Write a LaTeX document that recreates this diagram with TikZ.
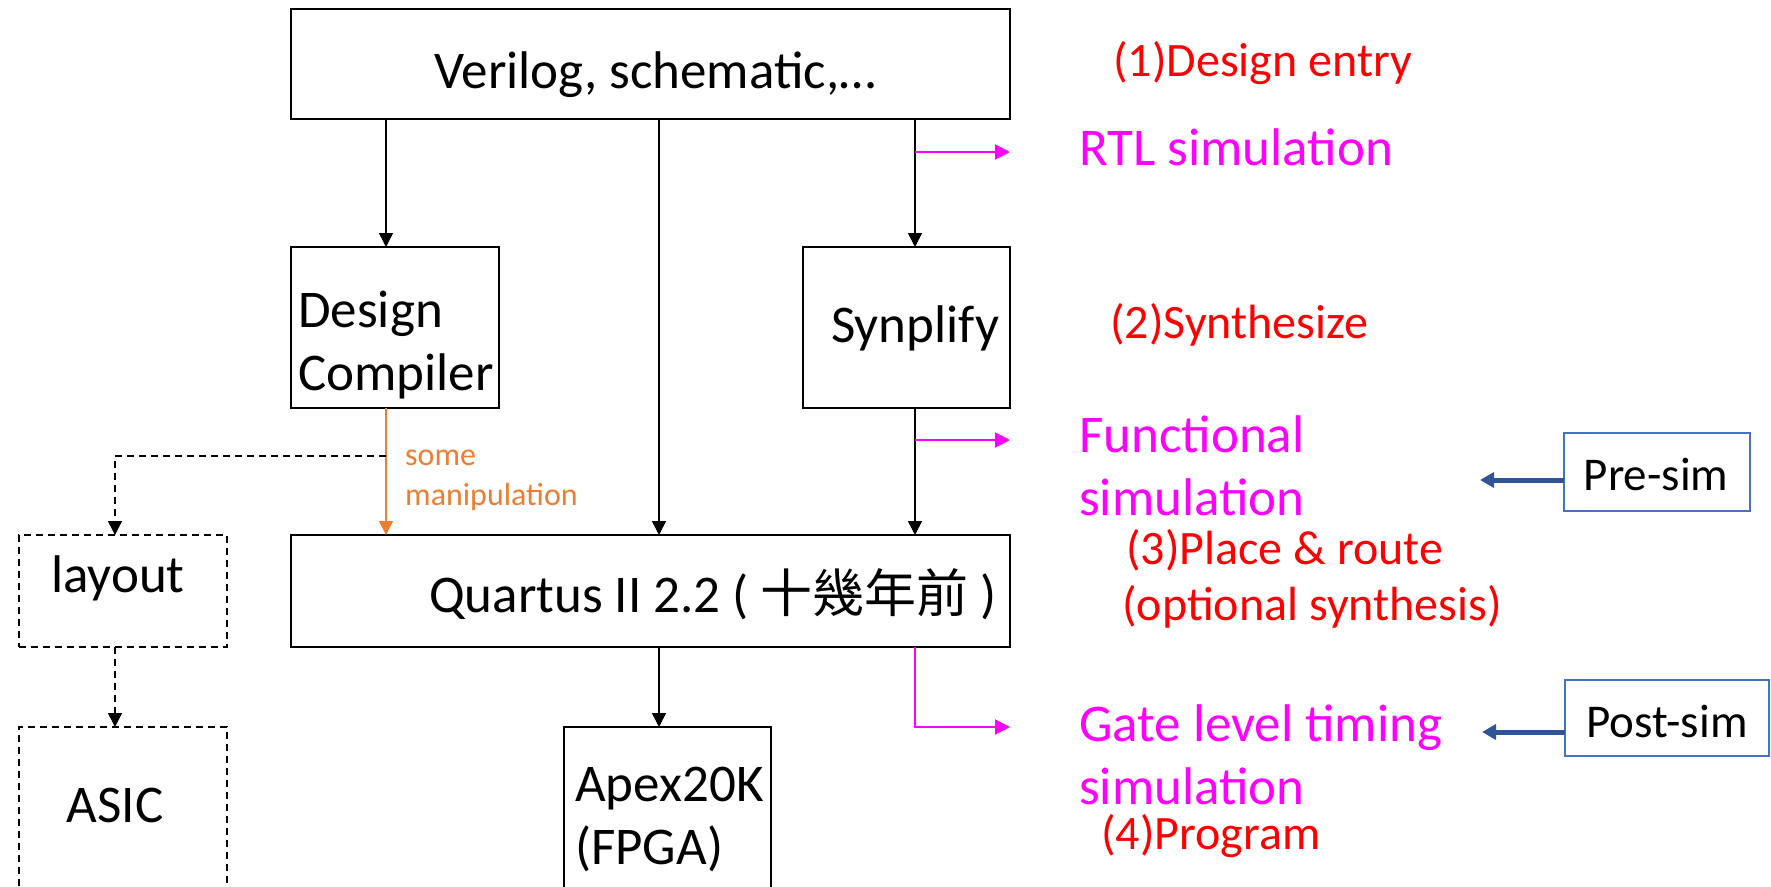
\documentclass[tikz,border=0pt]{standalone}
\usepackage{fontspec}
\setmainfont{Carlito}
\newfontfamily\cjk{Noto Sans CJK TC}
\usetikzlibrary{arrows.meta}
\definecolor{mag}{HTML}{FF00FF}
\definecolor{rd}{HTML}{FF0000}
\definecolor{org}{HTML}{ED7D31}
\definecolor{bl}{HTML}{4472C4}
\definecolor{dbl}{HTML}{2F5597}
\begin{document}
\begin{tikzpicture}[x=1pt,y=-1pt,
  box/.style={draw,line width=1.5pt,anchor=north west,inner sep=0pt,outer sep=0pt},
  dbox/.style={box,dash pattern=on 7pt off 5pt},
  bbox/.style={draw=bl,line width=1.5pt,anchor=north west,inner sep=0pt,outer sep=0pt},
  big/.style={font=\fontsize{53}{63}\selectfont,anchor=base west,inner sep=0pt,align=left},
  redt/.style={font=\fontsize{48}{56}\selectfont,anchor=base west,inner sep=0pt,align=left,text=rd},
  magt/.style={font=\fontsize{53}{63}\selectfont,anchor=base west,inner sep=0pt,align=left,text=mag},
  simt/.style={font=\fontsize{47}{55}\selectfont,anchor=base,inner sep=0pt},
  arr/.style={line width=1.5pt,-{Triangle[length=14pt,width=14pt]}},
  darr/.style={arr,dash pattern=on 7pt off 5pt},
  oarr/.style={arr,org},
  marr/.style={line width=2pt,mag,-{Triangle[length=15pt,width=15pt]}},
  barr/.style={line width=5pt,dbl,-{Triangle[length=14pt,width=15pt]}}
]
\useasboundingbox (0,0) rectangle (1771,886);
% boxes
\node[box,minimum width=719pt,minimum height=110pt] (top) at (291,9) {};
\node[box,minimum width=208pt,minimum height=161pt] (dc) at (291,247) {};
\node[box,minimum width=207pt,minimum height=161pt] (syn) at (803,247) {};
\node[box,minimum width=719pt,minimum height=112pt] (qu) at (291,535) {};
\node[box,minimum width=207pt,minimum height=200pt] (apex) at (564,727) {};
\node[dbox,minimum width=208pt,minimum height=112pt] (lay) at (19,535) {};
\node[dbox,minimum width=208pt,minimum height=200pt] (asic) at (19,727) {};
\node[bbox,minimum width=186pt,minimum height=78pt] (pre) at (1564,433) {};
\node[bbox,minimum width=204pt,minimum height=76pt] (post) at (1565,680) {};
% texts (multi-line nodes: base = last line)
\node[big] (tv) at (434,88) {Verilog, schematic,…};
\node[big] (tdc) at (298,390) {Design\\Compiler};
\node[big] (tsyn) at (831,342) {Synplify};
\node[big] (tqu) at (429,612) {Quartus II 2.2 ( {\cjk\fontsize{52}{60}\selectfont 十幾年前} )};
\node[big,anchor=base] (tlay) at (118,592) {layout};
\node[big,anchor=base] (tasic) at (115,822) {ASIC};
\node[big] (tapex) at (575,864) {Apex20K\\(FPGA)};
\node[simt] (tpre) at (1656,490) {Pre-sim};
\node[simt] (tpost) at (1667,737) {Post-sim};
\node[redt] (s1) at (1113,76) {(1)Design entry};
\node[magt] (rtl) at (1079,165) {RTL simulation};
\node[redt] (s2) at (1110,338) {(2)Synthesize};
\node[magt] (func) at (1079,515) {Functional\\simulation};
\node[redt] (s3) at (1122,620) {\hspace*{4pt}(3)Place \& route\\(optional synthesis)};
\node[magt] (gate) at (1079,804) {Gate level timing\\simulation};
\node[redt] (s4) at (1101,849) {(4)Program};
\node[font=\fontsize{32}{40}\selectfont,text=org,anchor=base west,inner sep=0pt,align=left] (some) at (405,505) {some\\manipulation};
% coordinates for connector x positions
\coordinate (xL) at (386,0);
\coordinate (xM) at (659,0);
\coordinate (xR) at (915,0);
\coordinate (xA) at (115,0);
\coordinate (cRTL) at (915,152);
\coordinate (cFun) at (915,440);
\coordinate (cBr) at (386,456);
\coordinate (cPre) at (1480,480);
\coordinate (cPost) at (1482,732);
% connectors
\draw[arr] (top.south -| xL) -- (dc.north -| xL);
\draw[arr] (top.south -| xM) -- (qu.north -| xM);
\draw[arr] (top.south -| xR) -- (syn.north -| xR);
\draw[arr] (syn.south -| xR) -- (qu.north -| xR);
\draw[oarr] (dc.south -| xL) -- (qu.north -| xL);
\draw[darr] (cBr) -| (lay.north -| xA);
\draw[darr] (lay.south -| xA) -- (asic.north -| xA);
\draw[arr] (qu.south -| xM) -- (apex.north -| xM);
\draw[marr] (cRTL) -- (cRTL -| top.east);
\draw[marr] (cFun) -- (cFun -| syn.east);
\draw[marr] (qu.south -| xR) |- (apex.north -| qu.east);
\draw[barr] (pre.west |- cPre) -- (cPre);
\draw[barr] (post.west |- cPost) -- (cPost);
\end{tikzpicture}
\end{document}
